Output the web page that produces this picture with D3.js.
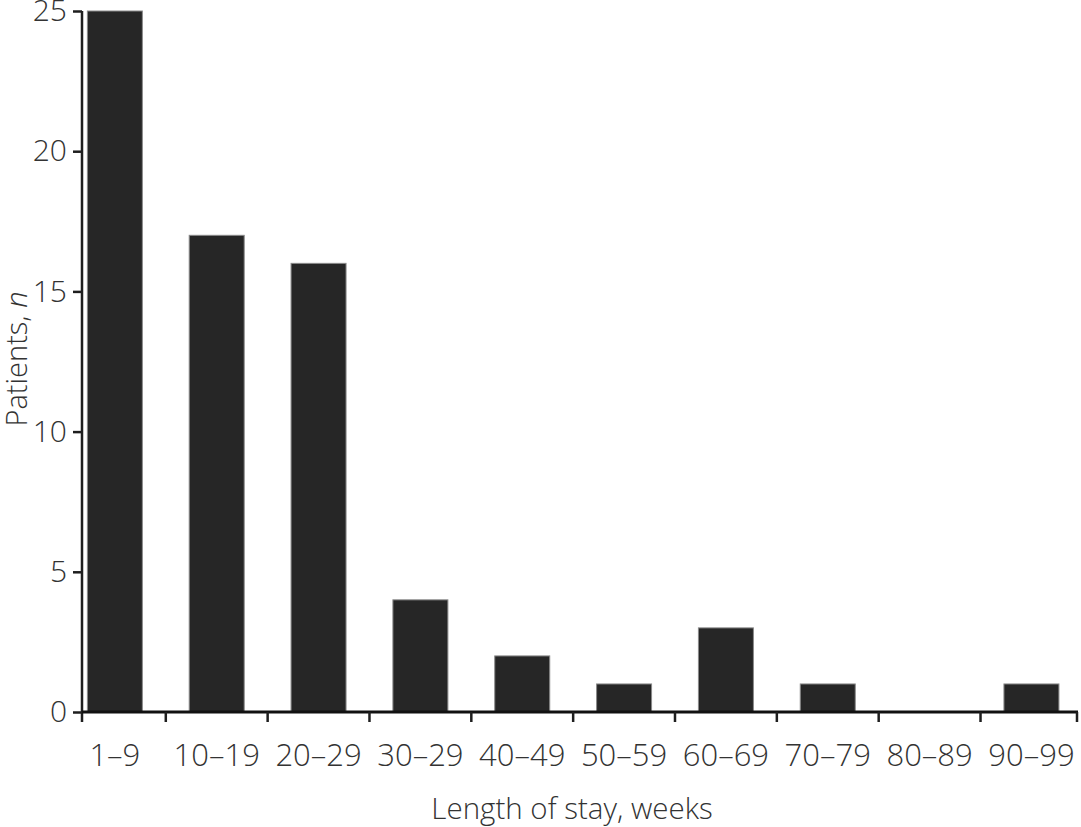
<!DOCTYPE html>
<html>
<head>
<meta charset="utf-8">
<script src="https://cdn.jsdelivr.net/npm/d3@7"></script>
<style>
  html, body { margin: 0; padding: 0; background: #fff; }
  svg { display: block; }
  text { font-family: "Open Sans", "Noto Sans", sans-serif; fill: #333; font-weight: 300; }
</style>
</head>
<body>
<svg id="chart" width="1081" height="827"></svg>
<script>
const categories = ["1–9", "10–19", "20–29", "30–29", "40–49", "50–59", "60–69", "70–79", "80–89", "90–99"];
const patients = [25, 17, 16, 4, 2, 1, 3, 1, 0, 1];
const yTicks = [0, 5, 10, 15, 20, 25];
const xTitle = "Length of stay, weeks";
const yTitle = "Patients, ";
const yTitleItalic = "n";

const svg = d3.select("#chart");
const mLeft = 82, mRight = 1078, mTop = 11, mBottom = 712;

const x = d3.scaleBand().domain(categories).range([mLeft, mRight])
  .paddingInner(0.46).paddingOuter(0.12).align(0.22);
const y = d3.scaleLinear().domain([0, 25]).range([mBottom, mTop]);

// bars
svg.append("g").selectAll("rect").data(categories).join("rect")
  .attr("x", d => x(d))
  .attr("width", x.bandwidth())
  .attr("y", (d, i) => y(patients[i]))
  .attr("height", (d, i) => y(0) - y(patients[i]))
  .attr("fill", "#262626")
  .attr("stroke", "#8a8a8a")
  .attr("stroke-width", 1)
  .attr("display", (d, i) => patients[i] > 0 ? null : "none");

// y axis
const yAxis = svg.append("g").attr("transform", `translate(${mLeft},0)`)
  .call(d3.axisLeft(y).tickValues(yTicks).tickSize(9).tickPadding(6).tickFormat(d3.format("d")));
yAxis.select(".domain").attr("stroke", "#1e1e1e").attr("stroke-width", 2.5)
  .attr("d", `M0,${mTop}V${mBottom + 10}`);
yAxis.selectAll(".tick line").attr("stroke", "#1e1e1e").attr("stroke-width", 2.5);
yAxis.selectAll(".tick text").attr("font-size", 30).attr("fill", "#333")
  .style("font-family", '"Open Sans", sans-serif').style("font-weight", 300);

// x axis
const step = x.step();
const boundaries = categories.slice(0, -1).map(c => x(c) + x.bandwidth() + step * x.paddingInner() / 2)
  .concat([mRight - 1]);
const xg = svg.append("g");
xg.append("line").attr("x1", mLeft).attr("x2", mRight).attr("y1", mBottom).attr("y2", mBottom)
  .attr("stroke", "#111").attr("stroke-width", 3);
xg.selectAll("line.tk").data(boundaries).join("line").attr("class", "tk")
  .attr("x1", d => d).attr("x2", d => d).attr("y1", mBottom).attr("y2", mBottom + 10)
  .attr("stroke", "#1e1e1e").attr("stroke-width", 2.5);
xg.selectAll("text").data(categories).join("text")
  .attr("x", d => x(d) + x.bandwidth() / 2)
  .attr("y", mBottom + 54)
  .attr("text-anchor", "middle")
  .attr("font-size", 31)
  .text(d => d);

// titles
svg.append("text").attr("x", 572).attr("y", 819).attr("text-anchor", "middle")
  .attr("font-size", 29.5).text(xTitle);
const yt = svg.append("text").attr("transform", `translate(27,359) rotate(-90)`)
  .attr("text-anchor", "middle").attr("font-size", 29);
yt.append("tspan").text(yTitle);
yt.append("tspan").attr("font-style", "italic").text(yTitleItalic);
</script>
</body>
</html>
